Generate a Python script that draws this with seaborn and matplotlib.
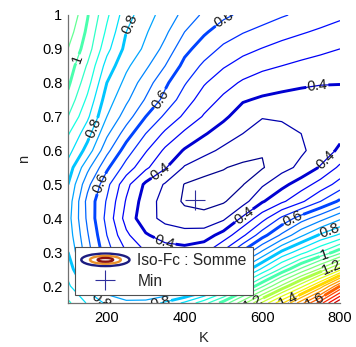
import numpy as np
import matplotlib
matplotlib.use("Agg")
import matplotlib.pyplot as plt
import seaborn as sns
from matplotlib.legend_handler import HandlerBase
from matplotlib.patches import Ellipse
from matplotlib.lines import Line2D

# ---------------- data ----------------
K_values = [100, 150, 200, 250, 300, 350, 400, 450, 500, 550, 600, 650, 700, 750, 800]
n_values = [0.15, 0.20, 0.25, 0.30, 0.35, 0.40, 0.45, 0.50, 0.55,
            0.60, 0.65, 0.70, 0.75, 0.80, 0.85, 0.90, 0.95, 1.00]

fc_n015 = [0.91, 0.845, 0.79, 0.765, 0.77, 0.81, 0.86, 0.93, 1.02, 1.13, 1.26, 1.39, 1.53, 1.68, 1.85]
fc_n020 = [0.86, 0.78, 0.71, 0.67, 0.655, 0.66, 0.68, 0.73, 0.82, 0.93, 1.04, 1.16, 1.28, 1.42, 1.60]
fc_n025 = [0.83, 0.72, 0.63, 0.575, 0.54, 0.525, 0.53, 0.57, 0.65, 0.76, 0.86, 0.96, 1.06, 1.16, 1.28]
fc_n030 = [0.80, 0.67, 0.57, 0.50, 0.45, 0.425, 0.42, 0.44, 0.51, 0.61, 0.71, 0.81, 0.88, 0.95, 1.03]
fc_n035 = [0.78, 0.655, 0.55, 0.46, 0.405, 0.38, 0.37, 0.375, 0.42, 0.49, 0.58, 0.66, 0.74, 0.81, 0.86]
fc_n040 = [0.77, 0.64, 0.535, 0.43, 0.37, 0.335, 0.32, 0.315, 0.34, 0.41, 0.48, 0.56, 0.625, 0.68, 0.74]
fc_n045 = [0.78, 0.635, 0.545, 0.445, 0.375, 0.33, 0.293, 0.285, 0.295, 0.33, 0.395, 0.44, 0.49, 0.55, 0.61]
fc_n050 = [0.80, 0.665, 0.565, 0.465, 0.39, 0.345, 0.298, 0.283, 0.288, 0.298, 0.343, 0.385, 0.425, 0.47, 0.52]
fc_n055 = [0.83, 0.715, 0.61, 0.53, 0.46, 0.405, 0.345, 0.32, 0.302, 0.292, 0.296, 0.332, 0.362, 0.405, 0.46]
fc_n060 = [0.87, 0.78, 0.665, 0.575, 0.505, 0.44, 0.395, 0.365, 0.34, 0.318, 0.303, 0.318, 0.343, 0.37, 0.41]
fc_n065 = [0.905, 0.82, 0.71, 0.625, 0.55, 0.49, 0.44, 0.405, 0.375, 0.35, 0.335, 0.338, 0.35, 0.36, 0.385]
fc_n070 = [0.95, 0.86, 0.75, 0.675, 0.60, 0.54, 0.49, 0.445, 0.41, 0.375, 0.352, 0.355, 0.36, 0.365, 0.373]
fc_n075 = [0.985, 0.89, 0.775, 0.71, 0.645, 0.585, 0.525, 0.475, 0.44, 0.405, 0.393, 0.388, 0.385, 0.382, 0.382]
fc_n080 = [1.01, 0.92, 0.80, 0.735, 0.675, 0.61, 0.555, 0.505, 0.47, 0.443, 0.425, 0.414, 0.407, 0.403, 0.402]
fc_n085 = [1.03, 0.945, 0.83, 0.76, 0.71, 0.65, 0.585, 0.54, 0.505, 0.48, 0.462, 0.45, 0.44, 0.432, 0.425]
fc_n090 = [1.05, 0.975, 0.865, 0.785, 0.74, 0.685, 0.615, 0.575, 0.54, 0.515, 0.498, 0.483, 0.47, 0.46, 0.45]
fc_n095 = [1.075, 0.99, 0.89, 0.80, 0.755, 0.71, 0.65, 0.607, 0.575, 0.553, 0.535, 0.518, 0.505, 0.492, 0.48]
fc_n100 = [1.10, 1.004, 0.91, 0.82, 0.77, 0.73, 0.685, 0.64, 0.61, 0.59, 0.573, 0.555, 0.54, 0.525, 0.51]

min_K = [428]
min_n = [0.455]

x_ticks = [200, 400, 600, 800]
y_ticks = [0.2, 0.3, 0.4, 0.5, 0.6, 0.7, 0.8, 0.9, 1.0]
y_tick_labels = ["0.2", "0.3", "0.4", "0.5", "0.6", "0.7", "0.8", "0.9", "1"]

label_levels = [0.4, 0.6, 0.8, 1.0, 1.2, 1.4, 1.6]

# ---------------- build the grid ----------------
Z = np.array([fc_n015, fc_n020, fc_n025, fc_n030, fc_n035, fc_n040, fc_n045,
              fc_n050, fc_n055, fc_n060, fc_n065, fc_n070, fc_n075, fc_n080,
              fc_n085, fc_n090, fc_n095, fc_n100])
KK, NN = np.meshgrid(K_values, n_values)

iso_levels = np.round(np.arange(0.30, 1.851, 0.05), 2)

sns.set_theme(style="white")
plt.rcParams["font.family"] = ["Liberation Sans", "DejaVu Sans"]

cmap = matplotlib.colormaps["jet"]
VMIN, VMAX = 0.28, 1.92

fig = plt.figure(figsize=(3.56, 3.47), dpi=100)
ax = fig.add_axes([68 / 356, 44 / 347, 272 / 356, 288 / 347])

cs = ax.contour(KK, NN, Z, levels=iso_levels, cmap=cmap, vmin=VMIN, vmax=VMAX,
                linewidths=0.9)
cs2 = ax.contour(KK, NN, Z, levels=label_levels, cmap=cmap, vmin=VMIN, vmax=VMAX,
                 linewidths=2.1)

label_positions = [(133, 0.867), (276, 0.965), (159, 0.669), (503, 0.985),
                   (330, 0.757), (180, 0.505), (743, 0.78), (342, 0.53),
                   (754, 0.585), (547, 0.417), (345, 0.32), (681, 0.394),
                   (772, 0.37), (756, 0.305), (777, 0.264), (663, 0.168),
                   (730, 0.168), (183, 0.155), (335, 0.155), (560, 0.155)]
texts = ax.clabel(cs2, manual=label_positions, fmt=lambda v: f"{v:g}",
                  fontsize=10.5, colors="k", inline=True, inline_spacing=1)
for t in cs2.labelTexts:
    t.set_clip_on(True)

min_line, = ax.plot(min_K, min_n, linestyle="none", marker="+", ms=15, mew=0.8,
                    color="#2f2f9c", label="Min")

ax.set_xlim(100, 800)
ax.set_ylim(0.15, 1.0)
ax.set_xticks(x_ticks)
ax.set_yticks(y_ticks)
ax.set_yticklabels(y_tick_labels)
ax.tick_params(direction="in", length=4, width=0.8, color="#555555",
               labelsize=10.5, labelcolor="black", pad=4)
ax.tick_params(axis="x", pad=6)
for s in ["top", "right"]:
    ax.spines[s].set_visible(False)
for s in ["left", "bottom"]:
    ax.spines[s].set_color("#707070")
    ax.spines[s].set_linewidth(0.9)
ax.set_xlabel("K", fontsize=10.5, labelpad=4)
ax.set_ylabel("n", fontsize=10.5, labelpad=8)


class HandlerIso(HandlerBase):
    def create_artists(self, legend, orig_handle, xdescent, ydescent,
                       width, height, fontsize, trans):
        cx = width / 2 - xdescent
        cy = height / 2 - ydescent
        arts = []
        for w, h, c, lw in [(1.0, 1.15, "#1c1c80", 1.7), (0.64, 0.72, "#e8902a", 1.7),
                            (0.32, 0.34, "#8b1010", 1.7)]:
            e = Ellipse((cx, cy), width * w, height * h, fill=False,
                        edgecolor=c, lw=lw, transform=trans)
            arts.append(e)
        return arts


iso_handle = Line2D([], [], label="Iso-Fc : Somme")
leg = ax.legend(handles=[iso_handle, min_line], labels=["Iso-Fc : Somme", "Min"],
                handler_map={iso_handle: HandlerIso()},
                loc="lower left", bbox_to_anchor=(0.026, 0.028), borderaxespad=0,
                frameon=True, fancybox=False, framealpha=1, edgecolor="#505050",
                fontsize=11.2, handlelength=3.1, handletextpad=0.5,
                borderpad=0.4, labelspacing=0.35)
leg.get_frame().set_linewidth(0.8)
leg.set_zorder(10)

fig.savefig("out.png", dpi=100, facecolor="white")
